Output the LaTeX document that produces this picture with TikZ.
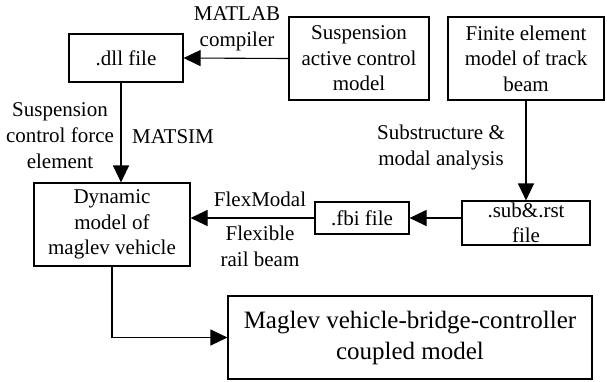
\documentclass[tikz,border=0pt]{standalone}
\usepackage{fontspec}
\setmainfont{Liberation Serif}
\usetikzlibrary{arrows.meta}
\begin{document}
\begin{tikzpicture}[x=1pt,y=-1pt,
  box/.style={draw,line width=1.1pt,inner sep=0pt,align=center,font=\fontsize{21}{25.5}\selectfont},
  lbl/.style={inner sep=0pt,align=center,font=\fontsize{21}{26}\selectfont},
  arr/.style={line width=1.1pt,-{Triangle[length=17pt,width=16pt]}}]
\useasboundingbox (0,0) rectangle (607,381);
\node[box,minimum width=114pt,minimum height=48pt] (dll) at (126,58) {.dll file};
\node[box,minimum width=140pt,minimum height=83pt] (susp) at (359,58.5) {Suspension\\active control\\model};
\node[box,minimum width=156pt,minimum height=83pt] (fem) at (526,58.5) {Finite element\\model of track\\beam};
\node[box,minimum width=128pt,minimum height=44pt] (sub) at (526,223) {.sub\&.rst\\file};
\node[box,minimum width=94pt,minimum height=32pt] (fbi) at (362,218) {.fbi file};
\node[box,minimum width=156pt,minimum height=83pt] (dyn) at (112,224.5) {Dynamic\\model of\\maglev vehicle};
\node[box,minimum width=364pt,minimum height=83pt,font=\fontsize{25}{31}\selectfont] (mag) at (410,337.5) {Maglev vehicle-bridge-controller\\coupled model};
\node[lbl] (l1) at (237,29) {MATLAB\\compiler};
\node[lbl] (l2) at (60,136) {Suspension\\control force\\element};
\node[lbl] (l3) at (173,137) {MATSIM};
\node[lbl] (l4) at (441,147) {Substructure \&\\modal analysis};
\node[lbl] (l5) at (260,199) {FlexModal};
\node[lbl] (l6) at (260,246) {Flexible\\rail beam};
\draw[arr] (susp.west) -- (dll.east);
\draw[arr] ([xshift=-5pt]dll.south) -- ([xshift=-5pt]dll.south |- dyn.north);
\draw[arr] (fem.south) -- (sub.north);
\draw[arr] (sub.west |- fbi.east) -- (fbi.east);
\draw[arr] (fbi.west) -- (fbi.west -| dyn.east);
\draw[arr] (dyn.south) |- (mag.west);
\end{tikzpicture}
\end{document}
